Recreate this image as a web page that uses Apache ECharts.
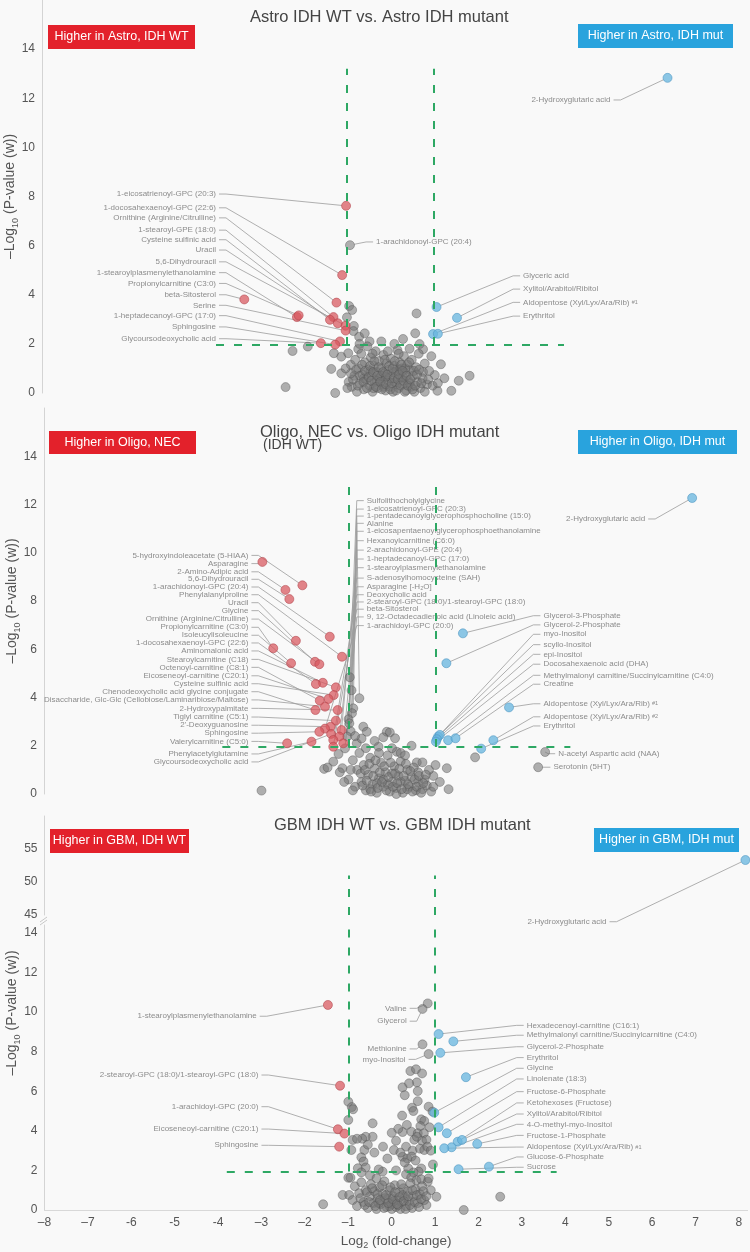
<!DOCTYPE html>
<html><head><meta charset="utf-8">
<script src="https://cdn.jsdelivr.net/npm/echarts@6/dist/echarts.min.js"></script>
<style>html,body{margin:0;padding:0;background:#f9f9f9}#c{width:750px;height:1252px}</style>
</head><body><div id="c"></div><script>
const FONT = '"Liberation Sans", Arial, sans-serif';
const xTickLabels = ['–8','–7','-6','-5','-4','–3','–2','–1','0','1','2','3','4','5','6','7','8'];
const pThreshold = 1.95;

// ---------- Panel 1: Astro ----------
const astroGray = [
 [-0.92,6.02,'1-arachidonoyl-GPC (20:4)'],
 [-2.40,0.24],[-2.24,1.71],[-1.89,1.89],[-1.35,0.98],[-1.29,1.62],[-1.12,1.48],[-1.26,0.0],[-1.12,0.80],[-0.96,1.62],[-0.73,1.79],
 [-0.94,3.54],[-0.87,3.38],[-0.99,3.08],[-0.83,2.73],[-0.84,2.52],[-0.71,2.29],[-0.58,2.43],[-0.47,2.10],
 [0.61,3.24],[0.58,2.43],[0.68,1.99],[0.76,1.78],[1.17,1.17],[1.83,0.70],[1.58,0.50],[1.41,0.09],[1.09,0.09],[1.03,0.73],[0.76,0.86],
 [-0.95,0.45],[-0.9,1.15],[-0.88,0.25],[-0.82,0.7],[-0.8,1.35],[-0.76,0.05],[-0.72,1.0],[-0.7,0.4],[-0.66,1.6],[-0.63,0.75],[-0.6,0.15],[-0.58,1.25],[-0.55,0.55],[-0.52,1.9],[-0.5,0.95],[-0.47,0.3],[-0.44,1.45],[-0.42,0.7],[-0.4,0.05],[-0.37,1.1],[-0.35,0.45],[-0.33,1.7],[-0.3,0.85],[-0.28,0.2],[-0.25,1.3],[-0.23,0.6],[-0.2,1.0],[-0.18,0.35],[-0.15,1.55],[-0.13,0.8],[-0.1,0.1],[-0.08,1.2],[-0.05,0.5],[-0.03,0.95],[0.0,0.25],[0.02,1.4],[0.05,0.7],[0.07,0.05],[0.1,1.1],[0.12,0.45],[0.15,0.9],[0.17,1.75],[0.2,0.2],[0.22,1.25],[0.25,0.6],[0.27,1.0],[0.3,0.35],[0.32,1.5],[0.35,0.8],[0.37,0.1],[0.4,1.15],[0.42,0.5],[0.45,0.95],[0.48,0.25],[0.5,1.35],[0.53,0.7],[0.56,0.05],[0.6,1.05],[0.63,0.45],[0.66,1.6],[0.7,0.2],[0.75,0.6],[0.8,1.2],[0.85,0.35],[0.9,0.9],[0.95,1.5],
 [-0.6,0.6],[-0.45,0.9],[-0.3,0.5],[-0.15,0.25],[0.0,0.6],[0.15,0.35],[0.3,0.65],[0.45,0.4],[-0.38,0.2],[-0.2,0.7],[0.08,0.85],[0.22,0.95],[-0.1,0.65],[0.35,1.0],
 [-0.78,0.95],[-0.74,0.3],[-0.69,0.7],[-0.64,1.15],[-0.61,0.45],[-0.57,0.9],[-0.53,0.2],[-0.49,0.65],[-0.46,1.1],[-0.43,0.5],[-0.39,0.85],[-0.36,1.3],[-0.32,0.25],[-0.29,0.7],[-0.26,1.05],[-0.22,0.45],[-0.19,0.15],[-0.16,0.85],[-0.12,1.35],[-0.09,0.35],[-0.06,0.75],[-0.02,1.1],[0.01,0.15],[0.04,0.4],[0.06,1.0],[0.09,0.6],[0.11,1.3],[0.14,0.1],[0.18,0.55],[0.21,0.75],[0.24,0.3],[0.26,1.15],[0.29,0.9],[0.31,0.5],[0.34,0.05],[0.38,0.7],[0.41,0.3],[0.44,1.25],[0.47,0.55],[0.52,0.15],[0.55,0.9],[0.58,0.3],[0.62,0.75],[0.67,0.95],[0.72,0.4],[-0.85,0.55],[-0.9,0.8],[-0.98,0.2],[-1.02,1.0],[0.8,0.05],[0.88,0.55],[0.98,0.3],[1.1,0.4],[1.25,0.6],[0.2,1.6],[-0.05,1.7],[-0.4,1.6],[0.45,1.8],[-0.7,2.0],[0.1,2.0],[0.3,2.2],[-0.2,2.1]
];
const astroRed = [
 [-1.01,7.62,'1-eicosatrienoyl-GPC (20:3)'],
 [-1.10,4.80,'1-docosahexaenoyl-GPC (22:6)'],
 [-1.23,3.68,'Ornithine (Arginine/Citrulline)'],
 [-1.30,3.09,'1-stearoyl-GPE (18:0)'],
 [-1.38,2.98,'Cysteine sulfinic acid'],
 [-1.20,2.84,'Uracil'],
 [-1.02,2.74,'5,6-Dihydrouracil'],
 [-2.14,3.09,'1-stearoylplasmenylethanolamine'],
 [-2.10,3.16,'Propionylcarnitine (C3:0)'],
 [-3.35,3.81,'beta-Sitosterol'],
 [-1.02,2.54,'Serine'],
 [-1.15,2.10,'1-heptadecanoyl-GPC (17:0)'],
 [-1.26,1.97,'Sphingosine'],
 [-1.59,2.03,'Glycoursodeoxycholic acid']
];
const astroBlue = [
 [6.38,12.83,'2-Hydroxyglutaric acid'],
 [1.07,3.50,'Glyceric acid'],
 [1.54,3.06,'Xylitol/Arabitol/Ribitol'],
 [0.99,2.40,'Aldopentose (Xyl/Lyx/Ara/Rib) #1'],
 [1.10,2.41,'Erythritol']
];
const astroLabelPos = {
 '1-eicosatrienoyl-GPC (20:3)':[-4.0,8.10,'l'],
 '1-docosahexaenoyl-GPC (22:6)':[-4.0,7.54,'l'],
 'Ornithine (Arginine/Citrulline)':[-4.0,7.13,'l'],
 '1-stearoyl-GPE (18:0)':[-4.0,6.63,'l'],
 'Cysteine sulfinic acid':[-4.0,6.24,'l'],
 'Uracil':[-4.0,5.82,'l'],
 '5,6-Dihydrouracil':[-4.0,5.34,'l'],
 '1-stearoylplasmenylethanolamine':[-4.0,4.90,'l'],
 'Propionylcarnitine (C3:0)':[-4.0,4.46,'l'],
 'beta-Sitosterol':[-4.0,4.00,'l'],
 'Serine':[-4.0,3.57,'l'],
 '1-heptadecanoyl-GPC (17:0)':[-4.0,3.15,'l'],
 'Sphingosine':[-4.0,2.69,'l'],
 'Glycoursodeoxycholic acid':[-4.0,2.21,'l'],
 '1-arachidonoyl-GPC (20:4)':[-0.32,6.15,'r'],
 'Glyceric acid':[3.06,4.77,'r'],
 'Xylitol/Arabitol/Ribitol':[3.06,4.23,'r'],
 'Aldopentose (Xyl/Lyx/Ara/Rib) #1':[3.06,3.69,'r'],
 'Erythritol':[3.06,3.13,'r'],
 '2-Hydroxyglutaric acid':[5.07,11.93,'l']
};
const astroGuide = {top:13.2, from:-4, to:4};

// ---------- Panel 2: Oligo ----------
const oligoGray = [
 [3.52,1.74,'N-acetyl Aspartic acid (NAA)'],[3.36,1.11,'Serotonin (5HT)'],
 [-0.97,4.84,'Sulfolithocholylglycine'],[-0.93,4.3,'1-eicosatrienoyl-GPC (20:3)'],[-0.75,3.97,'1-pentadecanoylglycerophosphocholine (15:0)'],
 [-0.89,3.55,'Alanine'],[-0.92,3.35,'1-eicosapentaenoylglycerophosphoethanolamine'],[-1.0,3.1,'Hexanoylcarnitine (C6:0)'],
 [-0.98,2.93,'2-arachidonoyl-GPE (20:4)'],[-0.95,2.6,'1-stearoylplasmenylethanolamine'],[-1.03,2.38,'Asparagine [-H₂O]'],
 [-1.08,1.89,'9, 12-Octadecadienoic acid (Linoleic acid)'],
 [-1.23,1.66],[-1.35,1.34],[-1.56,1.04],[-1.48,1.10],[-1.14,1.07],[-3.0,0.14],
 [-0.66,2.79],[-0.58,2.58],[-0.81,2.10],[-0.7,2.3],[-0.85,2.4],[-0.12,2.58],[-0.05,2.55],[0.07,2.31],[-0.31,1.96],[0.11,1.75],[0.2,1.7],[1.91,1.52],[1.26,1.07],[0.57,1.31],[0.7,1.31],[0.95,0.75],[0.85,1.0],[1.0,1.2],[0.6,0.9],
 [-1.0,0.6],[-0.9,1.4],[-0.85,0.3],[-0.8,1.0],[-0.75,1.7],[-0.7,0.5],[-0.65,1.2],[-0.6,0.15],[-0.55,0.8],[-0.5,1.5],[-0.45,0.4],[-0.4,1.05],[-0.35,0.05],[-0.3,0.65],[-0.25,1.3],[-0.2,0.3],[-0.15,0.9],[-0.1,1.6],[-0.05,0.1],[0.0,0.5],[0.05,1.15],[0.1,0.25],[0.15,0.75],[0.2,1.35],[0.25,0.05],[0.3,0.55],[0.35,1.0],[0.4,0.3],[0.45,0.7],[0.5,1.1],[0.55,0.15],[0.6,0.5],[0.7,0.2],[0.75,0.6],[0.8,0.35],[0.9,0.1],[-0.5,0.2],[-0.2,0.6],[0.0,0.85],[0.2,0.5],[0.35,0.2],[-0.35,0.45],[0.1,0.0],[-0.1,0.4],
 [-0.72,0.85],[-0.68,0.35],[-0.62,1.0],[-0.58,0.55],[-0.52,1.25],[-0.48,0.1],[-0.43,0.75],[-0.38,1.4],[-0.33,0.25],[-0.28,0.9],[-0.23,0.5],[-0.18,1.15],[-0.13,0.15],[-0.08,0.7],[-0.03,1.3],[0.02,0.3],[0.07,0.85],[0.12,0.45],[0.17,1.05],[0.22,0.2],[0.27,0.75],[0.32,1.25],[0.37,0.4],[0.42,0.95],[0.47,0.1],[0.52,0.6],[0.57,0.3],[0.62,0.75],[0.67,0.05],[0.72,0.45],[0.78,0.8],[-0.9,0.15],[-0.95,1.0],[-1.1,0.5],[-1.2,0.9],[0.95,0.3],[1.1,0.5],[1.3,0.2],[0.3,1.6],[-0.3,1.7],[0.0,1.9],[-0.6,1.9],[0.45,2.0],[-0.4,2.2],[-0.2,2.35]
];
const oligoRed = [
 [-2.98,9.62,'Asparagine'],[-2.06,8.65,'5-hydroxyindoleacetate (5-HIAA)'],[-2.45,8.46,'2-Amino-Adipic acid'],[-2.36,8.08,'5,6-Dihydrouracil'],
 [-1.43,6.52,'1-arachidonoyl-GPC (20:4)'],[-2.21,6.35,'Uracil'],[-2.73,6.04,'Propionylcarnitine (C3:0)'],[-1.15,5.69,'Phenylalanylproline'],
 [-2.32,5.42,'Isoleucylisoleucine'],[-1.77,5.48,'Glycine'],[-1.67,5.38,'Ornithine (Arginine/Citrulline)'],[-1.29,4.42,'Stearoylcarnitine (C18)'],
 [-1.59,4.61,'Aminomalonic acid'],[-1.75,4.56,'1-docosahexaenoyl-GPC (22:6)'],[-1.34,4.10,'Cysteine sulfinic acid'],[-1.46,3.94,'Eicoseneoyl-carnitine (C20:1)'],
 [-1.66,3.87,'Octenoyl-carnitine (C8:1)'],[-1.54,3.62,'Disaccharide, Glc-Glc (Cellobiose/Laminaribiose/Maltose)'],[-1.76,3.48,'Chenodeoxycholic acid glycine conjugate'],[-1.25,3.48,'2-Hydroxypalmitate'],
 [-1.29,3.04,'Tiglyl carnitine (C5:1)'],[-1.41,2.79,"2'-Deoxyguanosine"],[-1.54,2.71,'1-arachidoyl-GPC (20:0)'],[-1.67,2.58,'Sphingosine'],
 [-1.16,2.65,'1-heptadecanoyl-GPC (17:0)'],[-1.40,2.49,'Glycoursodeoxycholic acid'],[-1.21,2.38,'S-adenosylhomocysteine (SAH)'],[-1.35,2.24,'Deoxycholic acid'],
 [-1.12,2.10,'2-stearoyl-GPC (18:0)/1-stearoyl-GPC (18:0)'],[-1.85,2.17,'Phenylacetylglutamine'],[-2.41,2.10,'Valerylcarnitine (C5:0)'],[-1.35,1.96,'beta-Sitosterol']
];
const oligoBlue = [
 [6.90,12.27,'2-Hydroxyglutaric acid'],
 [1.63,6.66,'Glycerol-3-Phosphate'],[1.25,5.42,'Glycerol-2-Phosphate'],[1.06,2.38,'myo-Inositol'],[1.10,2.45,'scyllo-Inositol'],
 [1.03,2.27,'epi-Inositol'],[1.01,2.17,'Docosahexaenoic acid (DHA)'],[1.29,2.23,'Methylmalonyl carnitine/Succinylcarnitine (C4:0)'],[1.46,2.31,'Creatine'],
 [2.69,3.59,'Aldopentose (Xyl/Lyx/Ara/Rib) #1'],[2.33,2.23,'Aldopentose (Xyl/Lyx/Ara/Rib) #2'],[2.05,1.88,'Erythritol']
];
const oligoLabelPos = {
 '5-hydroxyindoleacetate (5-HIAA)':[-3.30,9.89,'l'],'Asparagine':[-3.30,9.55,'l'],'2-Amino-Adipic acid':[-3.30,9.21,'l'],
 '5,6-Dihydrouracil':[-3.30,8.90,'l'],'1-arachidonoyl-GPC (20:4)':[-3.30,8.58,'l'],'Phenylalanylproline':[-3.30,8.26,'l'],
 'Uracil':[-3.30,7.93,'l'],'Glycine':[-3.30,7.60,'l'],'Ornithine (Arginine/Citrulline)':[-3.30,7.25,'l'],
 'Propionylcarnitine (C3:0)':[-3.30,6.91,'l'],'Isoleucylisoleucine':[-3.30,6.58,'l'],'1-docosahexaenoyl-GPC (22:6)':[-3.30,6.26,'l'],
 'Aminomalonic acid':[-3.30,5.93,'l'],'Stearoylcarnitine (C18)':[-3.30,5.58,'l'],'Octenoyl-carnitine (C8:1)':[-3.30,5.25,'l'],
 'Eicoseneoyl-carnitine (C20:1)':[-3.30,4.90,'l'],'Cysteine sulfinic acid':[-3.30,4.57,'l'],'Chenodeoxycholic acid glycine conjugate':[-3.30,4.24,'l'],
 'Disaccharide, Glc-Glc (Cellobiose/Laminaribiose/Maltose)':[-3.30,3.90,'l'],'2-Hydroxypalmitate':[-3.30,3.55,'l'],'Tiglyl carnitine (C5:1)':[-3.30,3.19,'l'],
 "2'-Deoxyguanosine":[-3.30,2.85,'l'],'Sphingosine':[-3.30,2.52,'l'],'Valerylcarnitine (C5:0)':[-3.30,2.18,'l'],
 'Phenylacetylglutamine':[-3.30,1.66,'l'],'Glycoursodeoxycholic acid':[-3.30,1.33,'l'],
 'Sulfolithocholylglycine':[-0.58,12.16,'r'],'1-eicosatrienoyl-GPC (20:3)':[-0.58,11.81,'r'],'1-pentadecanoylglycerophosphocholine (15:0)':[-0.58,11.52,'r'],
 'Alanine':[-0.58,11.22,'r'],'1-eicosapentaenoylglycerophosphoethanolamine':[-0.58,10.89,'r'],'Hexanoylcarnitine (C6:0)':[-0.58,10.50,'r'],
 '2-arachidonoyl-GPE (20:4)':[-0.58,10.11,'r'],'1-heptadecanoyl-GPC (17:0)':[-0.58,9.74,'r'],'1-stearoylplasmenylethanolamine':[-0.58,9.38,'r'],
 'S-adenosylhomocysteine (SAH)':[-0.58,8.95,'r'],'Asparagine [-H₂O]':[-0.58,8.59,'r'],'Deoxycholic acid':[-0.58,8.26,'r'],
 '2-stearoyl-GPC (18:0)/1-stearoyl-GPC (18:0)':[-0.58,7.96,'r'],'beta-Sitosterol':[-0.58,7.66,'r'],'9, 12-Octadecadienoic acid (Linoleic acid)':[-0.58,7.34,'r'],
 '1-arachidoyl-GPC (20:0)':[-0.58,6.98,'r'],
 'Glycerol-3-Phosphate':[3.48,7.39,'r'],'Glycerol-2-Phosphate':[3.48,7.01,'r'],'myo-Inositol':[3.48,6.62,'r'],'scyllo-Inositol':[3.48,6.19,'r'],
 'epi-Inositol':[3.48,5.79,'r'],'Docosahexaenoic acid (DHA)':[3.48,5.38,'r'],'Methylmalonyl carnitine/Succinylcarnitine (C4:0)':[3.48,4.92,'r'],
 'Creatine':[3.48,4.55,'r'],'Aldopentose (Xyl/Lyx/Ara/Rib) #1':[3.48,3.74,'r'],'Aldopentose (Xyl/Lyx/Ara/Rib) #2':[3.48,3.20,'r'],'Erythritol':[3.48,2.82,'r'],
 'N-acetyl Aspartic acid (NAA)':[3.82,1.67,'r'],'Serotonin (5HT)':[3.71,1.11,'r'],
 '2-Hydroxyglutaric acid':[5.82,11.40,'l']
};
const oligoGuide = {top:13.1, from:-3.9, to:4.1};

// ---------- Panel 3: GBM ----------
const gbmGray = [
 [0.83,10.44,'Valine'],[0.71,10.16,'Glycerol'],[0.71,8.37,'Methionine'],[0.85,7.88,'myo-Inositol'],
 [2.50,0.67],[1.66,0.0],[0.80,0.25],[1.03,0.67],[-1.58,0.29],[-1.0,5.47],[-0.92,5.2],[-0.89,5.09],[-1.0,4.55],[-0.9,3.54],[-0.93,3.03],[-1.0,1.63],[-0.95,1.63],[-1.13,0.76],[-0.98,0.76],
 [0.43,7.02],[0.56,7.11],[0.58,6.45],[0.25,6.20],[0.60,6.01],[0.47,5.17],[0.5,5.0],[0.85,5.22],[0.94,4.97],[0.24,4.77],[0.68,4.58],[0.75,4.5],[0.87,4.18],[0.66,4.24],[0.45,3.96],[0.25,3.94],[0.60,3.88],[0.74,3.88],[0.70,3.5],[0.52,3.55],[0.58,3.7],[0.80,3.55],[0.33,3.20],[0.05,3.03],[0.48,3.0],[0.65,3.1],[0.75,3.03],[0.82,3.2],[0.9,3.0],[0.25,2.69],[0.36,2.6],[0.46,2.7],[0.55,2.5],[0.38,2.1],[0.68,2.1],[0.62,1.94],[0.5,1.9],[0.33,1.8],[0.45,1.65],[0.57,1.5],[0.68,1.55],[0.83,1.43],[0.1,2.0],[-0.21,1.94],[-0.3,2.05],[-0.44,4.38],[-0.44,3.70],[-0.6,3.7],[-0.68,3.6],[-0.8,3.6],[-0.63,3.03],[-0.70,2.66],[-0.65,2.45],[-0.78,2.11],[-0.6,2.15],[-0.7,1.9],[-0.5,1.75],[-0.35,1.6],
 [-0.9,0.5],[-0.85,1.2],[-0.8,0.2],[-0.75,0.85],[-0.7,1.4],[-0.65,0.4],[-0.6,1.0],[-0.55,0.1],[-0.5,0.7],[-0.48,1.3],[-0.42,0.35],[-0.4,0.95],[-0.35,0.05],[-0.32,0.6],[-0.28,1.15],[-0.25,0.3],[-0.2,0.8],[-0.17,1.45],[-0.12,0.15],[-0.1,0.55],[-0.05,1.0],[0.0,0.3],[0.0,0.05],[0.03,0.7],[0.07,1.25],[0.1,0.15],[0.13,0.5],[0.17,0.9],[0.2,0.05],[0.23,0.4],[0.27,1.1],[0.3,0.65],[0.33,0.2],[0.37,0.95],[0.4,0.45],[0.43,1.35],[0.47,0.1],[0.5,0.7],[0.55,1.05],[0.6,0.35],[0.65,0.8],[0.7,1.2],[0.75,0.5],[0.9,1.0],[-0.3,0.35],[-0.15,0.6],[0.05,0.45],[0.15,0.25],[-0.05,0.2],[0.25,0.75],
 [-0.72,0.6],[-0.62,0.25],[-0.57,0.9],[-0.52,0.4],[-0.45,1.1],[-0.38,0.2],[-0.33,0.8],[-0.27,0.5],[-0.22,1.25],[-0.18,0.1],[-0.13,0.75],[-0.08,0.35],[-0.03,1.15],[0.02,0.55],[0.08,0.9],[0.12,0.3],[0.18,0.65],[0.22,1.3],[0.28,0.45],[0.32,0.05],[0.38,0.7],[0.42,0.25],[0.48,1.0],[0.53,0.4],[0.58,0.75],[0.63,0.15],[0.68,0.55],[0.73,0.95],[0.8,0.7],[0.85,1.6],[0.95,2.3],[0.3,2.4],[0.2,2.9],[0.1,3.5],[0.35,4.3],[0.15,4.1],[0.6,5.5],[0.4,6.4],[0.7,6.9],[0.3,5.8],[-0.1,2.6],[-0.4,2.9],[-0.55,3.3],[-0.2,3.2],[0.0,3.9]
];
const gbmRed = [
 [-1.47,10.36,'1-stearoylplasmenylethanolamine'],[-1.19,6.28,'2-stearoyl-GPC (18:0)/1-stearoyl-GPC (18:0)'],
 [-1.24,4.08,'1-arachidoyl-GPC (20:0)'],[-1.09,3.86,'Eicoseneoyl-carnitine (C20:1)'],[-1.21,3.20,'Sphingosine']
];
const gbmBlue = [
 [8.15,53.33,'2-Hydroxyglutaric acid'],
 [1.08,8.89,'Hexadecenoyl-carnitine (C16:1)'],[1.42,8.52,'Methylmalonyl carnitine/Succinylcarnitine (C4:0)'],[1.12,7.94,'Glycerol-2-Phosphate'],
 [1.71,6.71,'Erythritol'],[0.98,4.92,'Glycine'],[1.08,4.18,'Linolenate (18:3)'],[1.27,3.88,'Fructose-6-Phosphate'],
 [1.52,3.45,'Ketohexoses (Fructose)'],[1.62,3.54,'Xylitol/Arabitol/Ribitol'],[1.38,3.17,'4-O-methyl-myo-Inositol'],[1.97,3.34,'Fructose-1-Phosphate'],
 [1.21,3.12,'Aldopentose (Xyl/Lyx/Ara/Rib) #1'],[2.24,2.19,'Glucose-6-Phosphate'],[1.54,2.06,'Sucrose']
];
const gbmLabelPos = {
 '1-stearoylplasmenylethanolamine':[-3.11,9.79,'l'],'2-stearoyl-GPC (18:0)/1-stearoyl-GPC (18:0)':[-3.07,6.82,'l'],
 '1-arachidoyl-GPC (20:0)':[-3.07,5.22,'l'],'Eicoseneoyl-carnitine (C20:1)':[-3.07,4.09,'l'],'Sphingosine':[-3.07,3.27,'l'],
 'Valine':[0.345,10.19,'l'],'Glycerol':[0.345,9.54,'l'],'Methionine':[0.345,8.14,'l'],'myo-Inositol':[0.32,7.61,'l'],
 'Hexadecenoyl-carnitine (C16:1)':[3.11,9.33,'r'],'Methylmalonyl carnitine/Succinylcarnitine (C4:0)':[3.11,8.83,'r'],'Glycerol-2-Phosphate':[3.11,8.25,'r'],
 'Erythritol':[3.11,7.70,'r'],'Glycine':[3.11,7.16,'r'],'Linolenate (18:3)':[3.11,6.62,'r'],'Fructose-6-Phosphate':[3.11,5.98,'r'],
 'Ketohexoses (Fructose)':[3.11,5.41,'r'],'Xylitol/Arabitol/Ribitol':[3.11,4.85,'r'],'4-O-methyl-myo-Inositol':[3.11,4.33,'r'],
 'Fructose-1-Phosphate':[3.11,3.77,'r'],'Aldopentose (Xyl/Lyx/Ara/Rib) #1':[3.11,3.18,'r'],'Glucose-6-Phosphate':[3.11,2.68,'r'],'Sucrose':[3.11,2.16,'r'],
 '2-Hydroxyglutaric acid':[4.95,43.98,'l']
};
const gbmGuide = {top:14.4, from:-3.8, to:3.8, upperTop:51};
const gbmBreak = {lowMax:14.4, highMin:45, highMax:60};

// ---------- styles / builders ----------
const GRAY = {color:'rgba(118,118,118,0.72)', borderColor:'rgba(78,78,78,0.7)', borderWidth:0.7};
const RED = {color:'rgba(215,88,95,0.92)', borderColor:'#b2444b', borderWidth:0.7};
const BLUE = {color:'rgba(104,182,222,0.95)', borderColor:'#4a93c0', borderWidth:0.7};
const GREEN = '#2ea864';

function scatter(gi, data, style, z){
  return {type:'scatter', xAxisIndex:gi, yAxisIndex:gi, data:data.map(d=>[d[0],d[1]]),
    symbolSize:9, itemStyle:style, z:z, silent:true, animation:false};
}
function labelSeries(gi, arrays, pos){
  const items = [];
  arrays.forEach(arr=>arr.forEach(d=>{ if(d[2] && pos[d[2]]) items.push({x:d[0],y:d[1],name:d[2],lx:pos[d[2]][0],ly:pos[d[2]][1],side:pos[d[2]][2]}); }));
  return {type:'custom', xAxisIndex:gi, yAxisIndex:gi, silent:true, z:2, animation:false, clip:false,
    data: items.map(it=>[it.x,it.y,it.lx,it.ly]),
    renderItem(params, api){
      const it = items[params.dataIndex];
      const p = api.coord([it.x,it.y]); const l = api.coord([it.lx,it.ly]);
      const dir = it.side==='l'?1:-1;
      const s0=[l[0]+dir*3,l[1]], s1=[l[0]+dir*10,l[1]];
      const dx=p[0]-s1[0], dy=p[1]-s1[1], d=Math.hypot(dx,dy), r=4.2;
      const e = d>r?[p[0]-dx/d*r,p[1]-dy/d*r]:p;
      const txt = it.name.replace(/ #(\d)$/,' {s|#$1}');
      return {type:'group', children:[
        {type:'polyline', shape:{points:[s0,s1,e]}, style:{stroke:'#9c9c9c', lineWidth:0.8, fill:null}},
        {type:'text', x:l[0], y:l[1], style:{text:txt, align:it.side==='l'?'right':'left', verticalAlign:'middle',
          fontSize:8, fontFamily:FONT, fill:'#8c8c8c', rich:{s:{fontSize:5.5, fontFamily:FONT, fill:'#8c8c8c'}}}}
      ]};
    }
  };
}
function guides(g){
  return {silent:true, symbol:'none', label:{show:false}, animation:false,
    lineStyle:{color:GREEN, width:2, type:[8,10]},
    data:[
      [{coord:[-1,pThreshold]},{coord:[-1,g.top]}],
      [{coord:[1,pThreshold]},{coord:[1,g.top]}],
      [{coord:[g.from,pThreshold]},{coord:[g.to,pThreshold]}]
    ]};
}

const nameRich = {a:{fontSize:14, lineHeight:20, color:'#555', fontFamily:FONT}, s:{fontSize:9, lineHeight:9, verticalAlign:'bottom', color:'#555', fontFamily:FONT}};
const yName = '{a|–Log}{s|10}{a| (P-value (w))}';

const grids = [
  {left:42, top:0, width:704.7, height:393},
  {left:44, top:408, width:704.7, height:386},
  {left:44.5, top:816, width:703.1, height:99},
  {left:44.5, top:925, width:703.1, height:285},
  {left:44.5, top:816, width:703.1, height:394}
];
const xAxes = grids.map((g,i)=>({gridIndex:i, type:'value', min:-8, max:8.2, interval:1, show:i===3,
  axisLine:{show:true, onZero:false, lineStyle:{color:'#d8d8d8'}}, axisTick:{show:false}, splitLine:{show:false},
  axisLabel:{color:'#555', fontSize:12, fontFamily:FONT, margin:7, formatter:v=>Number.isInteger(v)?xTickLabels[v+8]:''},
  name:'{a|Log}{s|2}{a| (fold-change)}', nameLocation:'middle', nameGap:22, nameMoveOverlap:false,
  nameTextStyle:{rich:{a:{fontSize:13.5, lineHeight:18, color:'#555', fontFamily:FONT}, s:{fontSize:9, lineHeight:9, verticalAlign:'bottom', color:'#555', fontFamily:FONT}}}
}));
function yAx(i, min, max, interval, withName){
  return {gridIndex:i, type:'value', min, max, interval, position:'left',
    axisLine:{show:true, onZero:false, lineStyle:{color:'#d4d4d4'}}, axisTick:{show:false}, splitLine:{show:false},
    axisLabel:{color:'#555', fontSize:12, fontFamily:FONT, margin:7, formatter:v=>(v===max||!Number.isInteger(v))?'':String(v)},
    name: withName?yName:'', nameLocation:'middle', nameGap:22, nameMoveOverlap:false, nameTextStyle:{rich:nameRich}};
}
const yAxes = [
  yAx(0,0,16,2,true), yAx(1,0,16,2,true),
  yAx(2,gbmBreak.highMin,gbmBreak.highMax,5,false), yAx(3,0,gbmBreak.lowMax,2,false),
  Object.assign(yAx(4,0,1,1,true), {axisLine:{show:false, onZero:false}, axisLabel:{show:false}})
];

function gbmSplit(arr, high){ return arr.filter(d=>high ? d[1]>=30 : d[1]<30); }

const series = [];
series.push(labelSeries(0,[astroGray,astroRed,astroBlue],astroLabelPos));
series.push(Object.assign(scatter(0,astroGray,GRAY,3),{markLine:guides(astroGuide)}));
series.push(scatter(0,astroRed,RED,4), scatter(0,astroBlue,BLUE,4));
series.push(labelSeries(1,[oligoGray,oligoRed,oligoBlue],oligoLabelPos));
series.push(Object.assign(scatter(1,oligoGray,GRAY,3),{markLine:guides(oligoGuide)}));
series.push(scatter(1,oligoRed,RED,4), scatter(1,oligoBlue,BLUE,4));
series.push(labelSeries(3,[gbmGray,gbmRed,gbmSplit(gbmBlue,false)],gbmLabelPos));
series.push(Object.assign(scatter(3,gbmGray,GRAY,3),{markLine:guides(gbmGuide)}));
series.push(scatter(3,gbmRed,RED,4), scatter(3,gbmSplit(gbmBlue,false),BLUE,4));
series.push(labelSeries(2,[gbmSplit(gbmBlue,true)],gbmLabelPos));
series.push(Object.assign(scatter(2,gbmSplit(gbmBlue,true),BLUE,4),{markLine:{silent:true,symbol:'none',label:{show:false},animation:false,
  lineStyle:{color:GREEN,width:2,type:[8,10]},
  data:[[{coord:[-1,gbmBreak.highMin]},{coord:[-1,gbmGuide.upperTop]}],[{coord:[1,gbmBreak.highMin]},{coord:[1,gbmGuide.upperTop]}]]}}));

function box(x,y,w,h,color,text){
  return {type:'group', x, y, children:[
    {type:'rect', shape:{x:0,y:0,width:w,height:h}, style:{fill:color}},
    {type:'text', x:w/2, y:h/2, style:{text, fill:'#fff', fontSize:12.5, fontFamily:FONT, align:'center', verticalAlign:'middle'}}
  ]};
}
function title(x,y,text,size){
  return {type:'text', x, y, style:{text, fill:'#444', fontSize:size, fontFamily:FONT, verticalAlign:'middle'}};
}
const RED_BOX='#e3212b', BLUE_BOX='#29a3dd';
const graphics = [
  title(250,17.5,'Astro IDH WT vs. Astro IDH mutant',16.5),
  box(48,25,147,24,RED_BOX,'Higher in Astro, IDH WT'),
  box(578,24,155,24,BLUE_BOX,'Higher in Astro, IDH mut'),
  title(260,432,'Oligo, NEC vs. Oligo IDH mutant',16.5),
  title(263,445,'(IDH WT)',14),
  box(49,431,147,23,RED_BOX,'Higher in Oligo, NEC'),
  box(578,430,159,24,BLUE_BOX,'Higher in Oligo, IDH mut'),
  title(274,825,'GBM IDH WT vs. GBM IDH mutant',16.5),
  box(50,829,139,24,RED_BOX,'Higher in GBM, IDH WT'),
  box(594,828,145,24,BLUE_BOX,'Higher in GBM, IDH mut'),
  {type:'polyline', shape:{points:[[40,922],[47,917]]}, style:{stroke:'#c8c8c8', lineWidth:1, fill:null}},
  {type:'polyline', shape:{points:[[40,925],[47,920]]}, style:{stroke:'#c8c8c8', lineWidth:1, fill:null}}
];

const chart = echarts.init(document.getElementById('c'), null, {renderer:'canvas'});
chart.setOption({
  backgroundColor:'#f9f9f9', animation:false,
  grid: grids.map(g=>Object.assign({containLabel:false, outerBoundsMode:'none'}, g)),
  xAxis: xAxes, yAxis: yAxes, series, graphic: graphics
});
</script></body></html>
